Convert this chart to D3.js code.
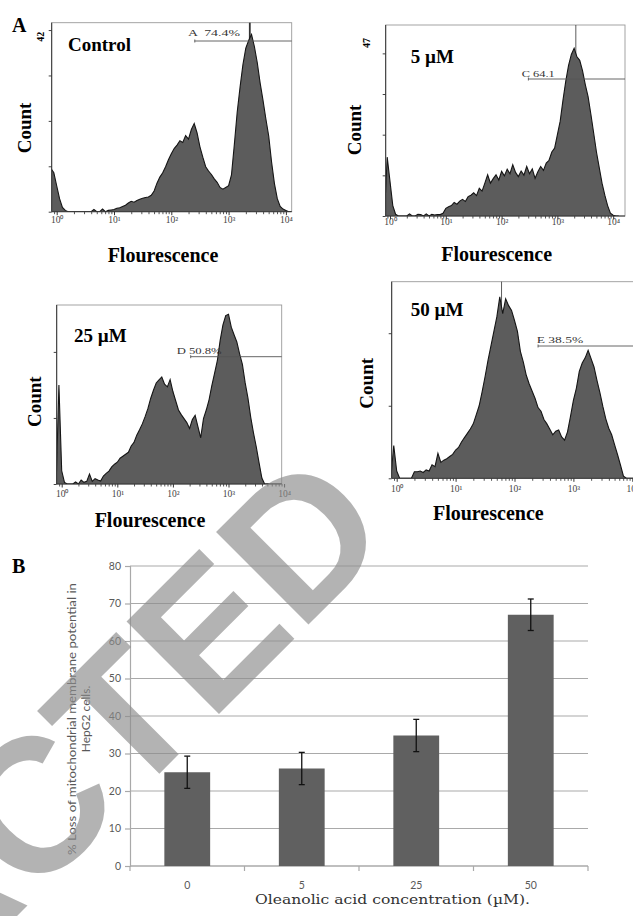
<!DOCTYPE html>
<html><head><meta charset="utf-8">
<script src="https://cdn.jsdelivr.net/npm/d3@7"></script>
<style>body{margin:0;background:#fff}svg{display:block}</style>
</head><body>
<script>
// ---------- DATA ----------
// flow cytometry channel positions (log10 fluorescence)
const binLog = [
 -0.10,-0.05,0.00,0.05,0.10,0.15,0.20,0.25,0.30,0.35,
 0.40,0.45,0.50,0.55,0.60,0.65,0.70,0.75,0.80,0.85,
 0.90,0.95,1.00,1.05,1.10,1.15,1.20,1.25,1.30,1.35,
 1.40,1.45,1.50,1.55,1.60,1.65,1.70,1.75,1.80,1.85,
 1.90,1.95,2.00,2.05,2.10,2.15,2.20,2.25,2.30,2.35,
 2.40,2.45,2.50,2.55,2.60,2.65,2.70,2.75,2.80,2.85,
 2.90,2.95,3.00,3.05,3.10,3.15,3.20,3.25,3.30,3.35,
 3.40,3.45,3.50,3.55,3.60,3.65,3.70,3.75,3.80,3.85,
 3.90,3.95,4.00,4.05,4.10];
const controlCounts = [
 10,9,6,3,1,0.3,0,0,0,0,
 0,0,0,0,0,0.5,0,0,0.6,0,
 0.3,0.4,0.5,0.8,0.9,1.2,1.5,2.0,2.4,2.2,
 2.6,2.9,3.1,3.3,3.4,3.8,4.8,6.6,8.0,9.0,
 10.4,12.0,13.4,14.6,15.4,16.4,16.0,17.6,16.8,19.0,
 20.4,18.2,15.0,12.6,10.4,9.4,8.6,7.6,6.8,5.6,
 5.2,5.6,6.0,8.5,15.5,23.0,28.8,34.0,37.8,39.6,
 41.0,38.2,34.5,29.8,25.8,21.5,17.5,11.5,6.5,3.0,
 1.2,0.6,0.3,0,0];
const uM5Counts = [
 0,17,10,3,0.5,0,0,0,0,0.6,
 0,0,0.5,0.4,0,0.6,0,0.5,0.3,0.4,
 0.4,0.8,2.2,2.7,3.0,3.9,3.4,4.3,4.8,4.2,
 5.6,6.0,6.7,5.9,8.0,7.2,9.5,11.9,9.5,10.8,
 11.9,10.4,12.9,11.6,13.5,12.2,14.8,12.6,11.4,13.0,
 11.8,14.3,12.2,13.6,10.9,12.8,14.3,13.2,15.3,16.1,
 18.5,19.6,23.5,27.4,33.5,39.0,43.5,46.7,48.5,46.0,
 45.0,42.0,38.0,34.5,29.4,24.0,18.5,14.0,9.5,6.0,
 3.0,0.8,0.2,0,0];
const uM25Counts = [
 0,30,4,0.5,0,0,0,0.6,0,1.2,
 0.5,0.8,3.0,0.8,1.6,1.2,0.9,2.4,3.2,3.9,
 5.2,6.0,6.6,7.8,8.4,9.0,9.6,11.5,12.6,14.8,
 16.4,18.2,20.4,22.8,25.9,28.4,30.6,31.5,32.4,30.2,
 29.4,31.6,28.0,25.2,22.4,21.0,19.8,18.6,16.8,19.5,
 20.8,17.4,14.0,19.8,22.4,25.5,29.8,33.6,37.4,43.5,
 48.2,51.0,51.4,47.5,45.2,43.0,39.4,36.2,30.6,26.0,
 20.2,15.4,11.2,6.4,1.8,0,0,0,0,0,
 0,0,0,0,0];
const uM50Counts = [
 0,9,2,0,0,0,0,0,1.8,1.8,
 2.0,1.6,2.3,2.0,3.7,3.2,6.9,4.4,5.0,5.4,
 6.0,6.6,7.8,8.5,10.0,11.2,12.4,13.6,15.0,17.5,
 20.0,23.8,28.0,32.5,36.5,40.5,44.5,50.0,45.4,49.5,
 47.6,46.3,43.5,40.5,35.0,32.0,28.4,26.0,24.0,22.0,
 19.5,18.5,16.2,15.0,13.5,12.0,13.0,13.3,11.4,10.5,
 12.8,17.0,21.5,24.8,29.5,31.8,33.2,35.3,33.0,30.7,
 27.0,23.6,19.8,16.4,13.8,12.0,9.2,6.5,3.6,0.6,
 0,0,0,0,0];
const decadeTicks = [1,10,100,1000,10000];
const decadeLabels = ["10\u2070","10\u00b9","10\u00b2","10\u00b3","10\u2074"];
const panelTitles = ["Control","5 \u00b5M","25 \u00b5M","50 \u00b5M"];
const gateLabels = ["A  74.4%","C 64.1","D 50.8%","E 38.5%"];
const gateStartLog = [2.41, 2.48, 2.32, 2.40];
const cursorLog = [3.37, 3.33, null, 1.78];
const maxCountLabels = ["42","47","",""];
const countTicks = [[0,10.5,21,31.5,42],[0,11.75,23.5,35.25,47],[0,20,40],[0,20,40]];

const concentrations = ["0","5","25","50"];
const lossPercent = [25, 26, 34.8, 67];
const lossError = [4.3, 4.3, 4.3, 4.2];
const percentTicks = [0,10,20,30,40,50,60,70,80];

// ---------- LAYOUT ----------
const panelCounts = [controlCounts, uM5Counts, uM25Counts, uM50Counts];
const layouts = [
 {x0:51.7,x1:291.7,y0:22.7,y1:211.7,dec0:56.7,step:57.3,yMax:43.7,titleX:68,titleY:51,countX:31,countY:128,flX:163,flY:262,tickY:220,maxX:40,maxY:36.7,gTX:188,gTW:52,gTY:36,gY:41,curW:1.8},
 {x0:385.7,x1:625,y0:25,y1:216,dec0:390,step:55.8,yMax:55.2,titleX:410.7,titleY:63,countX:361,countY:130,flX:496.7,flY:261,tickY:222,maxX:366.7,maxY:43,gTX:521.7,gTW:33,gTY:76.5,gY:79,curW:0.8},
 {x0:56.7,x1:281.7,y0:305,y1:484,dec0:61.7,step:55.6,yMax:54.2,titleX:74,titleY:341.7,countX:41,countY:401.7,flX:150,flY:527,tickY:493.5,maxX:0,maxY:0,gTX:176.7,gTW:45,gTY:354,gY:356.7,curW:0.8},
 {x0:391.7,x1:641,y0:281.7,y1:478.3,dec0:396.7,step:58.9,yMax:54.2,titleX:410.7,titleY:316,countX:373,countY:383.3,flX:488.3,flY:520,tickY:488.5,maxX:0,maxY:0,gTX:536.7,gTW:46.6,gTY:342.7,gY:346,curW:0.8}
];

const serif = "'Liberation Serif','Times New Roman',serif";
const sans = "Lato,'Open Sans',sans-serif";
const svg = d3.select("body").append("svg").attr("width",633).attr("height",916);
svg.append("rect").attr("width",633).attr("height",916).attr("fill","#fff");

// Panel letters
svg.append("text").attr("x",12).attr("y",32).text("A").attr("font-family",serif).attr("font-weight","bold").attr("font-size",20);
svg.append("text").attr("x",12).attr("y",573).text("B").attr("font-family",serif).attr("font-weight","bold").attr("font-size",20);

panelCounts.forEach((counts,i)=>{
  const L = layouts[i];
  const xs = d3.scaleLog()
    .domain([Math.pow(10,(L.x0-L.dec0)/L.step), Math.pow(10,(L.x1-L.dec0)/L.step)])
    .range([L.x0,L.x1]);
  const ys = d3.scaleLinear().domain([0,L.yMax]).range([L.y1,L.y0]);
  const g = svg.append("g");
  const clipId = "clip"+i;
  svg.append("clipPath").attr("id",clipId).append("rect")
    .attr("x",L.x0).attr("y",L.y0).attr("width",L.x1-L.x0).attr("height",L.y1-L.y0);

  g.append("rect").attr("x",L.x0).attr("y",L.y0).attr("width",L.x1-L.x0).attr("height",L.y1-L.y0)
    .attr("fill","none").attr("stroke","#9a9a9a").attr("stroke-width",0.9);

  if (cursorLog[i]!==null) {
    const cx = xs(Math.pow(10,cursorLog[i]));
    g.append("line").attr("x1",cx).attr("x2",cx).attr("y1",L.y0).attr("y2",L.y1)
      .attr("stroke","#333").attr("stroke-width",L.curW);
  }

  const pts = binLog.map((v,k)=>({f:Math.pow(10,v), c:counts[k]}));
  const area = d3.area().x(d=>xs(d.f)).y0(L.y1).y1(d=>ys(d.c)).curve(d3.curveLinear);
  const line = d3.line().x(d=>xs(d.f)).y(d=>ys(d.c)).curve(d3.curveLinear);
  g.append("path").datum(pts).attr("d",area).attr("fill","#5c5c5c").attr("clip-path",`url(#${clipId})`);
  g.append("path").datum(pts).attr("d",line).attr("fill","none").attr("stroke","#151515")
    .attr("stroke-width",1.1).attr("stroke-linejoin","miter").attr("clip-path",`url(#${clipId})`);

  // x axis
  const ax = g.append("g").attr("transform",`translate(0,${L.y1})`)
    .call(d3.axisBottom(xs).tickValues(decadeTicks).tickSize(3.5).tickFormat((d,k)=>decadeLabels[k]));
  ax.select(".domain").remove();
  ax.selectAll("line").attr("stroke","#333");
  ax.selectAll("text").attr("y",L.tickY-L.y1).attr("dy","0.35em")
    .attr("font-family",serif).attr("font-size",9.5).attr("fill","#444");
  const minor = xs.ticks().filter(t=>!decadeTicks.includes(t));
  const mx = g.append("g").attr("transform",`translate(0,${L.y1})`)
    .call(d3.axisBottom(xs).tickValues(minor).tickSize(2.5).tickFormat(""));
  mx.select(".domain").remove();
  mx.selectAll("line").attr("stroke","#555");
  g.append("line").attr("x1",L.x0).attr("x2",L.x1).attr("y1",L.y1).attr("y2",L.y1).attr("stroke","#333").attr("stroke-width",1);

  // y axis
  const ay = g.append("g").attr("transform",`translate(${L.x0},0)`)
    .call(d3.axisLeft(ys).tickValues(countTicks[i]).tickSize(3).tickFormat(""));
  ay.select(".domain").remove();
  ay.selectAll("line").attr("stroke","#444");
  g.append("line").attr("x1",L.x0).attr("x2",L.x0).attr("y1",L.y0).attr("y2",L.y1).attr("stroke","#333").attr("stroke-width",1);

  if (maxCountLabels[i]) {
    g.append("text").attr("transform",`translate(${L.maxX},${L.maxY}) rotate(-90)`)
      .attr("text-anchor","middle").attr("dominant-baseline","central")
      .attr("font-family",serif).attr("font-weight","bold").attr("font-size",10).text(maxCountLabels[i]);
  }

  // gate
  const gx = xs(Math.pow(10,gateStartLog[i]));
  g.append("line").attr("x1",gx).attr("x2",L.x1).attr("y1",L.gY).attr("y2",L.gY).attr("stroke","#555").attr("stroke-width",0.9);
  g.append("line").attr("x1",gx).attr("x2",gx).attr("y1",L.gY-1.5).attr("y2",L.gY+1.5).attr("stroke","#555").attr("stroke-width",0.9);
  g.append("text").attr("x",L.gTX).attr("y",L.gTY).text(gateLabels[i])
    .attr("font-family",serif).attr("font-size",8).attr("fill","#333")
    .attr("textLength",L.gTW).attr("lengthAdjust","spacingAndGlyphs").attr("xml:space","preserve");

  // titles
  g.append("text").attr("x",L.titleX).attr("y",L.titleY).text(panelTitles[i])
    .attr("font-family",serif).attr("font-weight","bold").attr("font-size",19);
  g.append("text").attr("transform",`translate(${L.countX},${L.countY}) rotate(-90)`).attr("text-anchor","middle")
    .text("Count").attr("font-family",serif).attr("font-weight","bold").attr("font-size",19);
  g.append("text").attr("x",L.flX).attr("y",L.flY).attr("text-anchor","middle")
    .text("Flourescence").attr("font-family",serif).attr("font-weight","bold").attr("font-size",20);
});

// ---------- BAR CHART ----------
const bx = d3.scaleBand().domain(concentrations).range([130,588]).paddingInner(0.6).paddingOuter(0.3);
const by = d3.scaleLinear().domain([0,80]).range([866,566]);
const bg = svg.append("g");
bg.selectAll("line.grid").data(percentTicks).join("line").attr("class","grid")
  .attr("x1",130).attr("x2",588).attr("y1",d=>by(d)).attr("y2",d=>by(d))
  .attr("stroke","#a9a9a9").attr("stroke-width",1.2);
const yAx = bg.append("g").attr("transform","translate(130,0)")
  .call(d3.axisLeft(by).tickValues(percentTicks).tickSize(5).tickPadding(4));
yAx.select(".domain").attr("stroke","#a9a9a9").attr("stroke-width",1.2);
yAx.selectAll("line").attr("stroke","#a9a9a9").attr("stroke-width",1.2);
yAx.selectAll("text").attr("font-family",sans).attr("font-size",10.5).attr("fill","#595959");
// x axis
bg.append("line").attr("x1",130).attr("x2",588).attr("y1",by(0)).attr("y2",by(0)).attr("stroke","#a9a9a9").attr("stroke-width",1.2);
const bounds = concentrations.map(c=>bx(c)-(bx.step()-bx.bandwidth())/2).concat([588]);
bg.selectAll("line.xt").data(bounds).join("line").attr("class","xt")
  .attr("x1",d=>d).attr("x2",d=>d).attr("y1",by(0)).attr("y2",by(0)+5)
  .attr("stroke","#a9a9a9").attr("stroke-width",1.2);
bg.selectAll("text.xl").data(concentrations).join("text").attr("class","xl")
  .attr("x",d=>bx(d)+bx.bandwidth()/2).attr("y",885).attr("dy","0.35em").attr("text-anchor","middle")
  .attr("font-family",sans).attr("font-size",10.5).attr("fill","#595959").text(d=>d);
// bars
bg.selectAll("rect.bar").data(concentrations).join("rect").attr("class","bar")
  .attr("x",d=>bx(d)).attr("width",bx.bandwidth())
  .attr("y",(d,k)=>by(lossPercent[k])).attr("height",(d,k)=>by(0)-by(lossPercent[k]))
  .attr("fill","#606060");
// error bars
concentrations.forEach((c,k)=>{
  const cx = bx(c)+bx.bandwidth()/2;
  const hi = by(lossPercent[k]+lossError[k]), lo = by(lossPercent[k]-lossError[k]);
  bg.append("line").attr("x1",cx).attr("x2",cx).attr("y1",hi).attr("y2",lo).attr("stroke","#111").attr("stroke-width",1.3);
  [hi,lo].forEach(yv=>bg.append("line").attr("x1",cx-3).attr("x2",cx+3).attr("y1",yv).attr("y2",yv).attr("stroke","#111").attr("stroke-width",1.3));
});
// titles
const yt = bg.append("g").attr("transform","translate(76,719) rotate(-90)");
yt.append("text").attr("text-anchor","middle").attr("font-family",sans).attr("font-size",12).attr("fill","#595959")
  .attr("textLength",272).attr("lengthAdjust","spacingAndGlyphs")
  .text("% Loss of mitochondrial membrane potential in");
yt.append("text").attr("y",14).attr("text-anchor","middle").attr("font-family",sans).attr("font-size",12).attr("fill","#595959")
  .text("HepG2 cells.");
bg.append("text").attr("x",392.5).attr("y",904).attr("text-anchor","middle").attr("font-family","'DejaVu Serif',serif")
  .attr("font-size",13).attr("fill","#333").attr("textLength",275).attr("lengthAdjust","spacingAndGlyphs")
  .text("Oleanolic acid concentration (\u00b5M).");

// ---------- WATERMARK ----------
const wm = svg.append("text").text("RETRACTED")
  .attr("font-family","'Liberation Sans',Arial,sans-serif").attr("font-weight","bold").attr("font-size",190)
  .attr("fill","#8c8c8c").attr("opacity",0.65);
const pre = wm.node().getSubStringLength(0,7);
wm.attr("x",-pre).attr("transform","translate(210,723) rotate(-45)");
</script>
</body></html>
